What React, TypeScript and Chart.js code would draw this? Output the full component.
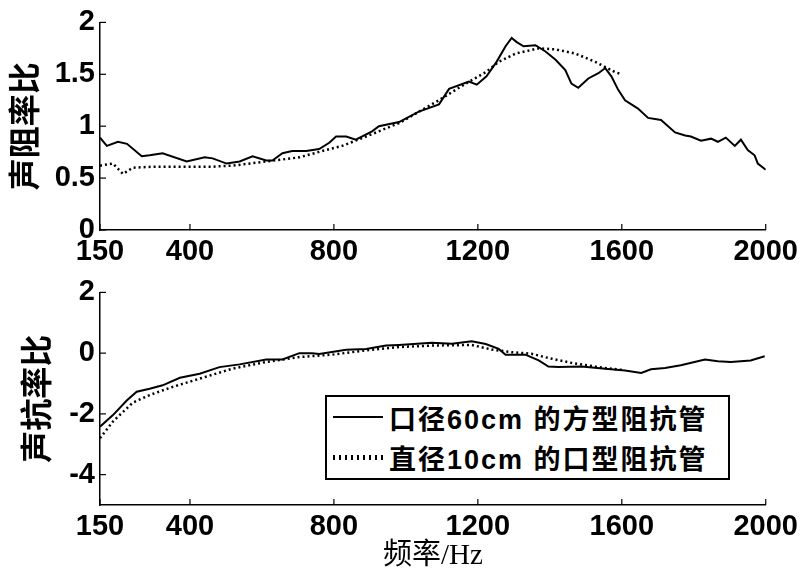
import React, { useEffect, useRef } from 'react';
import { Chart, registerables } from 'chart.js';

Chart.register(...registerables);

// Axis ticks
const freqTicks = [150, 400, 800, 1200, 1600, 2000];
const resistanceTicks = [0, 0.5, 1, 1.5, 2];
const reactanceTicks = [-4, -2, 0, 2];

// Series names
const squareLabel = '口径60cm 的方型阻抗管';
const roundLabel = '直径10cm 的口型阻抗管';

// Resistance ratio, 60 cm square tube
const squareResFreq = [150, 169, 200, 225, 266, 288, 324, 391, 441, 463, 502, 538, 574, 612, 629, 657, 684, 723, 759, 787, 806, 834, 861, 906, 925, 981, 1036, 1092, 1120, 1175, 1197, 1224, 1252, 1277, 1294, 1308, 1327, 1360, 1388, 1416, 1443, 1460, 1479, 1507, 1535, 1554, 1571, 1590, 1609, 1645, 1673, 1709, 1748, 1776, 1792, 1820, 1848, 1867, 1889, 1914, 1931, 1950, 1969, 1978, 2000];
const squareRes = [0.89, 0.81, 0.85, 0.83, 0.71, 0.72, 0.74, 0.66, 0.70, 0.69, 0.64, 0.66, 0.71, 0.67, 0.67, 0.74, 0.76, 0.76, 0.78, 0.84, 0.90, 0.90, 0.87, 0.95, 1.00, 1.04, 1.14, 1.21, 1.36, 1.43, 1.40, 1.48, 1.62, 1.77, 1.85, 1.81, 1.77, 1.78, 1.72, 1.64, 1.54, 1.41, 1.37, 1.46, 1.51, 1.56, 1.48, 1.35, 1.25, 1.17, 1.08, 1.06, 0.94, 0.91, 0.90, 0.86, 0.88, 0.85, 0.89, 0.81, 0.87, 0.77, 0.72, 0.64, 0.58];

// Resistance ratio, 10 cm round tube
const roundResFreq = [150, 186, 214, 241, 300, 400, 463, 518, 612, 704, 767, 823, 889, 981, 1092, 1166, 1222, 1258, 1305, 1369, 1416, 1471, 1526, 1582, 1600];
const roundRes = [0.62, 0.64, 0.54, 0.60, 0.61, 0.61, 0.61, 0.62, 0.66, 0.70, 0.76, 0.81, 0.90, 1.03, 1.25, 1.41, 1.52, 1.62, 1.70, 1.75, 1.74, 1.70, 1.62, 1.52, 1.50];

// Reactance ratio, 60 cm square tube
const squareReaFreq = [150, 186, 225, 252, 288, 324, 372, 427, 482, 538, 612, 657, 704, 740, 759, 834, 889, 945, 981, 1072, 1128, 1183, 1222, 1258, 1277, 1332, 1369, 1396, 1424, 1488, 1554, 1609, 1654, 1681, 1720, 1764, 1831, 1867, 1903, 1958, 1997];
const squareRea = [-2.42, -2.04, -1.55, -1.27, -1.17, -1.06, -0.81, -0.68, -0.46, -0.37, -0.21, -0.21, 0.0, 0.0, -0.03, 0.11, 0.14, 0.25, 0.27, 0.34, 0.31, 0.39, 0.30, 0.14, -0.05, -0.05, -0.24, -0.44, -0.46, -0.44, -0.51, -0.57, -0.65, -0.53, -0.49, -0.40, -0.21, -0.27, -0.29, -0.24, -0.10];

// Reactance ratio, 10 cm round tube
const roundReaFreq = [150, 186, 241, 288, 352, 427, 518, 612, 704, 795, 889, 981, 1072, 1183, 1238, 1294, 1349, 1396, 1460, 1535, 1590, 1600];
const roundRea = [-2.8, -2.25, -1.63, -1.38, -1.11, -0.84, -0.51, -0.29, -0.13, -0.05, 0.09, 0.20, 0.25, 0.27, 0.12, 0.03, -0.02, -0.16, -0.32, -0.46, -0.54, -0.55];

const pairs = (xs: number[], ys: number[]) => xs.map((x, i) => ({ x, y: ys[i] }));

const tickFont = { family: '"Liberation Sans", Arial, sans-serif', size: 29, weight: 'bold' as const };
const cjkBold = '"Liberation Sans", "Noto Sans CJK SC", sans-serif';

// MATLAB-style inward tick marks
const innerTicks = {
  id: 'innerTicks',
  afterDraw(chart: any) {
    const { ctx, chartArea, scales } = chart;
    const len = 6;
    ctx.save();
    ctx.strokeStyle = '#000';
    ctx.lineWidth = 1.2;
    scales.x.ticks.forEach((t: any) => {
      const px = scales.x.getPixelForValue(t.value);
      ctx.beginPath();
      ctx.moveTo(px, chartArea.bottom);
      ctx.lineTo(px, chartArea.bottom - len);
      ctx.stroke();
    });
    scales.y.ticks.forEach((t: any) => {
      const py = scales.y.getPixelForValue(t.value);
      ctx.beginPath();
      ctx.moveTo(chartArea.left, py);
      ctx.lineTo(chartArea.left + len, py);
      ctx.stroke();
    });
    ctx.restore();
  },
};

function makeConfig(opts: {
  solid: { x: number; y: number }[];
  dotted: { x: number; y: number }[];
  yMin: number;
  yMax: number;
  yTicks: number[];
  yTitle: string;
  yTitlePad: number;
  padTop: number;
  xHeight: number;
  xTitle?: string;
}): any {
  return {
    type: 'line',
    data: {
      datasets: [
        {
          label: squareLabel,
          data: opts.solid,
          borderColor: '#000',
          borderWidth: 2,
          pointRadius: 0,
          tension: 0,
          fill: false,
        },
        {
          label: roundLabel,
          data: opts.dotted,
          borderColor: '#000',
          borderWidth: 2.5,
          borderDash: [2, 3],
          borderCapStyle: 'butt',
          pointRadius: 0,
          tension: 0,
          fill: false,
        },
      ],
    },
    options: {
      responsive: false,
      animation: false,
      devicePixelRatio: 1,
      layout: { padding: { left: 0, right: 35, top: opts.padTop, bottom: 0 } },
      plugins: { legend: { display: false }, tooltip: { enabled: false } },
      scales: {
        x: {
          type: 'linear',
          min: 150,
          max: 2000,
          afterBuildTicks: (scale: any) => {
            scale.ticks = freqTicks.map((v) => ({ value: v }));
          },
          afterFit: (scale: any) => {
            scale.height = opts.xHeight;
          },
          grid: { display: false, drawTicks: false },
          border: { display: true, color: '#000', width: 1.5 },
          ticks: {
            color: '#000',
            font: tickFont,
            padding: 5,
            maxRotation: 0,
            autoSkip: false,
            callback: (v: any) => String(v),
          },
          title: opts.xTitle
            ? {
                display: true,
                text: opts.xTitle,
                color: '#000',
                font: { family: '"Liberation Serif", "Noto Sans CJK SC", serif', size: 29, lineHeight: 1 },
                padding: { top: 0, bottom: 1 },
              }
            : { display: false },
        },
        y: {
          type: 'linear',
          min: opts.yMin,
          max: opts.yMax,
          afterBuildTicks: (scale: any) => {
            scale.ticks = opts.yTicks.map((v) => ({ value: v }));
          },
          afterFit: (scale: any) => {
            scale.width = 100;
          },
          grid: { display: false, drawTicks: false },
          border: { display: true, color: '#000', width: 1.5 },
          ticks: {
            color: '#000',
            font: tickFont,
            padding: 5,
            autoSkip: false,
            callback: (v: any) => String(v),
          },
          title: {
            display: true,
            text: opts.yTitle,
            color: '#000',
            font: { family: cjkBold, size: 32, weight: 'bold', lineHeight: 1 },
            padding: { top: opts.yTitlePad, bottom: 0 },
          },
        },
      },
    },
    plugins: [innerTicks],
  };
}

function LegendRow({ label, dotted }: { label: string; dotted: boolean }) {
  return (
    <div style={{ display: 'flex', alignItems: 'center', height: 40 }}>
      <div
        style={{
          marginLeft: 6,
          width: 50,
          height: dotted ? 5 : 2,
          background: dotted
            ? 'repeating-linear-gradient(to right, #000 0 2px, transparent 2px 6px)'
            : '#000',
        }}
      />
      <span style={{ marginLeft: 6, whiteSpace: 'nowrap', letterSpacing: 2 }}>{label}</span>
    </div>
  );
}

export default function App() {
  const topRef = useRef<HTMLCanvasElement>(null);
  const bottomRef = useRef<HTMLCanvasElement>(null);

  useEffect(() => {
    const top = new Chart(
      topRef.current as HTMLCanvasElement,
      makeConfig({
        solid: pairs(squareResFreq, squareRes),
        dotted: pairs(roundResFreq, roundRes),
        yMin: 0,
        yMax: 2,
        yTicks: resistanceTicks,
        yTitle: '声阻率比',
        yTitlePad: 11,
        padTop: 22,
        xHeight: 40,
      })
    );
    const bottom = new Chart(
      bottomRef.current as HTMLCanvasElement,
      makeConfig({
        solid: pairs(squareReaFreq, squareRea),
        dotted: pairs(roundReaFreq, roundRea),
        yMin: -5,
        yMax: 2,
        yTicks: reactanceTicks,
        yTitle: '声抗率比',
        yTitlePad: 23,
        padTop: 21,
        xHeight: 67,
        xTitle: '频率/Hz',
      })
    );
    return () => {
      top.destroy();
      bottom.destroy();
    };
  }, []);

  return (
    <div style={{ position: 'fixed', left: 0, top: 0, width: 803, height: 572, background: '#fff' }}>
      <canvas ref={topRef} width={803} height={270} style={{ position: 'absolute', left: 0, top: 0 }} />
      <canvas ref={bottomRef} width={803} height={302} style={{ position: 'absolute', left: 0, top: 270 }} />
      <div
        style={{
          position: 'absolute',
          left: 325,
          top: 395,
          width: 405,
          height: 85,
          boxSizing: 'border-box',
          border: '2px solid #000',
          background: '#fff',
          fontFamily: cjkBold,
          fontWeight: 'bold',
          fontSize: 27,
          color: '#000',
        }}
      >
        <LegendRow label={squareLabel} dotted={false} />
        <LegendRow label={roundLabel} dotted={true} />
      </div>
    </div>
  );
}
